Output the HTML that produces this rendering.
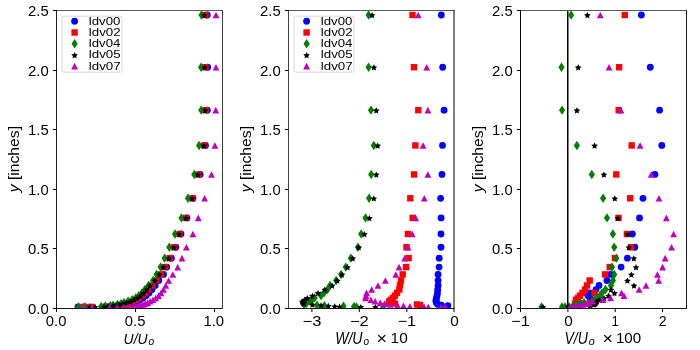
<!DOCTYPE html><html><head><meta charset="utf-8"><style>html,body{margin:0;padding:0;background:#fff;}svg{display:block;will-change:transform;}</style></head><body><svg width="700" height="350" viewBox="0 0 700 350">
<rect width="700" height="350" fill="#ffffff"/>
<defs>
<clipPath id="c0"><rect x="56.5" y="10.5" width="166.0" height="298.0"/></clipPath>
<clipPath id="c1"><rect x="288.5" y="10.5" width="165.5" height="298.0"/></clipPath>
<clipPath id="c2"><rect x="520.5" y="10.5" width="166.0" height="298.0"/></clipPath>
</defs>
<g clip-path="url(#c0)">
<circle cx="207.30" cy="15.00" r="3.4" fill="#0000ff"/>
<circle cx="207.70" cy="67.23" r="3.4" fill="#0000ff"/>
<circle cx="207.30" cy="110.15" r="3.4" fill="#0000ff"/>
<circle cx="205.50" cy="145.44" r="3.4" fill="#0000ff"/>
<circle cx="200.20" cy="174.45" r="3.4" fill="#0000ff"/>
<circle cx="193.00" cy="198.29" r="3.4" fill="#0000ff"/>
<circle cx="187.00" cy="217.89" r="3.4" fill="#0000ff"/>
<circle cx="181.00" cy="234.00" r="3.4" fill="#0000ff"/>
<circle cx="175.90" cy="247.24" r="3.4" fill="#0000ff"/>
<circle cx="171.40" cy="258.13" r="3.4" fill="#0000ff"/>
<circle cx="166.80" cy="267.08" r="3.4" fill="#0000ff"/>
<circle cx="163.50" cy="274.43" r="3.4" fill="#0000ff"/>
<circle cx="158.90" cy="280.48" r="3.4" fill="#0000ff"/>
<circle cx="155.30" cy="285.45" r="3.4" fill="#0000ff"/>
<circle cx="152.00" cy="289.53" r="3.4" fill="#0000ff"/>
<circle cx="149.00" cy="292.89" r="3.4" fill="#0000ff"/>
<circle cx="146.00" cy="295.65" r="3.4" fill="#0000ff"/>
<circle cx="143.00" cy="297.92" r="3.4" fill="#0000ff"/>
<circle cx="140.00" cy="299.79" r="3.4" fill="#0000ff"/>
<circle cx="137.00" cy="301.32" r="3.4" fill="#0000ff"/>
<circle cx="134.00" cy="302.58" r="3.4" fill="#0000ff"/>
<circle cx="131.00" cy="303.62" r="3.4" fill="#0000ff"/>
<circle cx="128.00" cy="304.47" r="3.4" fill="#0000ff"/>
<circle cx="125.00" cy="305.17" r="3.4" fill="#0000ff"/>
<circle cx="121.00" cy="305.74" r="3.4" fill="#0000ff"/>
<circle cx="116.00" cy="306.22" r="3.4" fill="#0000ff"/>
<circle cx="110.00" cy="306.60" r="3.4" fill="#0000ff"/>
<circle cx="104.00" cy="306.92" r="3.4" fill="#0000ff"/>
<circle cx="84.00" cy="307.00" r="3.4" fill="#0000ff"/>
<circle cx="78.00" cy="307.00" r="3.4" fill="#0000ff"/>
<rect x="202.30" y="11.80" width="6.40" height="6.40" fill="#ff0000"/>
<rect x="202.10" y="64.03" width="6.40" height="6.40" fill="#ff0000"/>
<rect x="202.30" y="106.95" width="6.40" height="6.40" fill="#ff0000"/>
<rect x="201.00" y="142.24" width="6.40" height="6.40" fill="#ff0000"/>
<rect x="195.30" y="171.25" width="6.40" height="6.40" fill="#ff0000"/>
<rect x="189.30" y="195.09" width="6.40" height="6.40" fill="#ff0000"/>
<rect x="182.80" y="214.69" width="6.40" height="6.40" fill="#ff0000"/>
<rect x="176.50" y="230.80" width="6.40" height="6.40" fill="#ff0000"/>
<rect x="171.10" y="244.04" width="6.40" height="6.40" fill="#ff0000"/>
<rect x="166.40" y="254.93" width="6.40" height="6.40" fill="#ff0000"/>
<rect x="161.60" y="263.88" width="6.40" height="6.40" fill="#ff0000"/>
<rect x="157.60" y="271.23" width="6.40" height="6.40" fill="#ff0000"/>
<rect x="153.30" y="277.28" width="6.40" height="6.40" fill="#ff0000"/>
<rect x="148.80" y="282.25" width="6.40" height="6.40" fill="#ff0000"/>
<rect x="144.80" y="286.33" width="6.40" height="6.40" fill="#ff0000"/>
<rect x="141.80" y="289.69" width="6.40" height="6.40" fill="#ff0000"/>
<rect x="138.80" y="292.45" width="6.40" height="6.40" fill="#ff0000"/>
<rect x="135.80" y="294.72" width="6.40" height="6.40" fill="#ff0000"/>
<rect x="132.80" y="296.59" width="6.40" height="6.40" fill="#ff0000"/>
<rect x="129.80" y="298.12" width="6.40" height="6.40" fill="#ff0000"/>
<rect x="126.80" y="299.38" width="6.40" height="6.40" fill="#ff0000"/>
<rect x="123.80" y="300.42" width="6.40" height="6.40" fill="#ff0000"/>
<rect x="120.80" y="301.27" width="6.40" height="6.40" fill="#ff0000"/>
<rect x="117.80" y="301.97" width="6.40" height="6.40" fill="#ff0000"/>
<rect x="114.80" y="302.54" width="6.40" height="6.40" fill="#ff0000"/>
<rect x="109.80" y="303.02" width="6.40" height="6.40" fill="#ff0000"/>
<rect x="103.80" y="303.40" width="6.40" height="6.40" fill="#ff0000"/>
<rect x="88.80" y="303.72" width="6.40" height="6.40" fill="#ff0000"/>
<rect x="84.80" y="303.80" width="6.40" height="6.40" fill="#ff0000"/>
<rect x="78.80" y="303.80" width="6.40" height="6.40" fill="#ff0000"/>
<path d="M201.50 10.30L204.60 15.00L201.50 19.70L198.40 15.00Z" fill="#008000"/>
<path d="M201.10 62.53L204.20 67.23L201.10 71.93L198.00 67.23Z" fill="#008000"/>
<path d="M201.20 105.45L204.30 110.15L201.20 114.85L198.10 110.15Z" fill="#008000"/>
<path d="M199.10 140.74L202.20 145.44L199.10 150.14L196.00 145.44Z" fill="#008000"/>
<path d="M194.30 169.75L197.40 174.45L194.30 179.15L191.20 174.45Z" fill="#008000"/>
<path d="M188.00 193.59L191.10 198.29L188.00 202.99L184.90 198.29Z" fill="#008000"/>
<path d="M181.40 213.19L184.50 217.89L181.40 222.59L178.30 217.89Z" fill="#008000"/>
<path d="M175.00 229.30L178.10 234.00L175.00 238.70L171.90 234.00Z" fill="#008000"/>
<path d="M169.30 242.54L172.40 247.24L169.30 251.94L166.20 247.24Z" fill="#008000"/>
<path d="M164.60 253.43L167.70 258.13L164.60 262.83L161.50 258.13Z" fill="#008000"/>
<path d="M160.60 262.38L163.70 267.08L160.60 271.78L157.50 267.08Z" fill="#008000"/>
<path d="M156.60 269.73L159.70 274.43L156.60 279.13L153.50 274.43Z" fill="#008000"/>
<path d="M153.10 275.78L156.20 280.48L153.10 285.18L150.00 280.48Z" fill="#008000"/>
<path d="M148.60 280.75L151.70 285.45L148.60 290.15L145.50 285.45Z" fill="#008000"/>
<path d="M145.00 284.83L148.10 289.53L145.00 294.23L141.90 289.53Z" fill="#008000"/>
<path d="M142.00 288.19L145.10 292.89L142.00 297.59L138.90 292.89Z" fill="#008000"/>
<path d="M138.80 290.95L141.90 295.65L138.80 300.35L135.70 295.65Z" fill="#008000"/>
<path d="M135.70 293.22L138.80 297.92L135.70 302.62L132.60 297.92Z" fill="#008000"/>
<path d="M132.20 295.09L135.30 299.79L132.20 304.49L129.10 299.79Z" fill="#008000"/>
<path d="M128.10 296.62L131.20 301.32L128.10 306.02L125.00 301.32Z" fill="#008000"/>
<path d="M124.00 297.88L127.10 302.58L124.00 307.28L120.90 302.58Z" fill="#008000"/>
<path d="M121.00 298.92L124.10 303.62L121.00 308.32L117.90 303.62Z" fill="#008000"/>
<path d="M117.50 299.77L120.60 304.47L117.50 309.17L114.40 304.47Z" fill="#008000"/>
<path d="M113.00 300.47L116.10 305.17L113.00 309.87L109.90 305.17Z" fill="#008000"/>
<path d="M110.30 301.04L113.40 305.74L110.30 310.44L107.20 305.74Z" fill="#008000"/>
<path d="M105.30 301.52L108.40 306.22L105.30 310.92L102.20 306.22Z" fill="#008000"/>
<path d="M101.10 301.90L104.20 306.60L101.10 311.30L98.00 306.60Z" fill="#008000"/>
<path d="M85.00 302.22L88.10 306.92L85.00 311.62L81.90 306.92Z" fill="#008000"/>
<path d="M78.60 302.30L81.70 307.00L78.60 311.70L75.50 307.00Z" fill="#008000"/>
<path d="M204.40 12.00L205.43 14.08L207.73 14.42L206.06 16.04L206.46 18.33L204.40 17.25L202.34 18.33L202.74 16.04L201.07 14.42L203.37 14.08Z" fill="#000000"/>
<path d="M204.60 64.23L205.63 66.31L207.93 66.64L206.26 68.27L206.66 70.56L204.60 69.48L202.54 70.56L202.94 68.27L201.27 66.64L203.57 66.31Z" fill="#000000"/>
<path d="M205.10 107.15L206.13 109.24L208.43 109.57L206.76 111.20L207.16 113.49L205.10 112.40L203.04 113.49L203.44 111.20L201.77 109.57L204.07 109.24Z" fill="#000000"/>
<path d="M203.90 142.44L204.93 144.53L207.23 144.86L205.56 146.48L205.96 148.77L203.90 147.69L201.84 148.77L202.24 146.48L200.57 144.86L202.87 144.53Z" fill="#000000"/>
<path d="M198.00 171.45L199.03 173.53L201.33 173.87L199.66 175.49L200.06 177.78L198.00 176.70L195.94 177.78L196.34 175.49L194.67 173.87L196.97 173.53Z" fill="#000000"/>
<path d="M192.20 195.29L193.23 197.38L195.53 197.71L193.86 199.33L194.26 201.62L192.20 200.54L190.14 201.62L190.54 199.33L188.87 197.71L191.17 197.38Z" fill="#000000"/>
<path d="M186.00 214.89L187.03 216.98L189.33 217.31L187.66 218.93L188.06 221.22L186.00 220.14L183.94 221.22L184.34 218.93L182.67 217.31L184.97 216.98Z" fill="#000000"/>
<path d="M179.30 231.00L180.33 233.09L182.63 233.42L180.96 235.04L181.36 237.33L179.30 236.25L177.24 237.33L177.64 235.04L175.97 233.42L178.27 233.09Z" fill="#000000"/>
<path d="M173.90 244.24L174.93 246.33L177.23 246.66L175.56 248.29L175.96 250.58L173.90 249.49L171.84 250.58L172.24 248.29L170.57 246.66L172.87 246.33Z" fill="#000000"/>
<path d="M168.90 255.13L169.93 257.21L172.23 257.55L170.56 259.17L170.96 261.46L168.90 260.38L166.84 261.46L167.24 259.17L165.57 257.55L167.87 257.21Z" fill="#000000"/>
<path d="M163.50 264.08L164.53 266.16L166.83 266.50L165.16 268.12L165.56 270.41L163.50 269.33L161.44 270.41L161.84 268.12L160.17 266.50L162.47 266.16Z" fill="#000000"/>
<path d="M159.40 271.43L160.43 273.52L162.73 273.85L161.06 275.47L161.46 277.77L159.40 276.68L157.34 277.77L157.74 275.47L156.07 273.85L158.37 273.52Z" fill="#000000"/>
<path d="M154.90 277.48L155.93 279.56L158.23 279.90L156.56 281.52L156.96 283.81L154.90 282.73L152.84 283.81L153.24 281.52L151.57 279.90L153.87 279.56Z" fill="#000000"/>
<path d="M150.00 282.45L151.03 284.53L153.33 284.87L151.66 286.49L152.06 288.78L150.00 287.70L147.94 288.78L148.34 286.49L146.67 284.87L148.97 284.53Z" fill="#000000"/>
<path d="M146.50 286.53L147.53 288.62L149.83 288.95L148.16 290.58L148.56 292.87L146.50 291.78L144.44 292.87L144.84 290.58L143.17 288.95L145.47 288.62Z" fill="#000000"/>
<path d="M143.50 289.89L144.53 291.98L146.83 292.31L145.16 293.93L145.56 296.22L143.50 295.14L141.44 296.22L141.84 293.93L140.17 292.31L142.47 291.98Z" fill="#000000"/>
<path d="M140.50 292.65L141.53 294.74L143.83 295.07L142.16 296.69L142.56 298.98L140.50 297.90L138.44 298.98L138.84 296.69L137.17 295.07L139.47 294.74Z" fill="#000000"/>
<path d="M137.00 294.92L138.03 297.01L140.33 297.34L138.66 298.96L139.06 301.25L137.00 300.17L134.94 301.25L135.34 298.96L133.67 297.34L135.97 297.01Z" fill="#000000"/>
<path d="M134.00 296.79L135.03 298.87L137.33 299.21L135.66 300.83L136.06 303.12L134.00 302.04L131.94 303.12L132.34 300.83L130.67 299.21L132.97 298.87Z" fill="#000000"/>
<path d="M130.00 298.32L131.03 300.40L133.33 300.74L131.66 302.36L132.06 304.65L130.00 303.57L127.94 304.65L128.34 302.36L126.67 300.74L128.97 300.40Z" fill="#000000"/>
<path d="M126.00 299.58L127.03 301.66L129.33 302.00L127.66 303.62L128.06 305.91L126.00 304.83L123.94 305.91L124.34 303.62L122.67 302.00L124.97 301.66Z" fill="#000000"/>
<path d="M122.50 300.62L123.53 302.70L125.83 303.03L124.16 304.66L124.56 306.95L122.50 305.87L120.44 306.95L120.84 304.66L119.17 303.03L121.47 302.70Z" fill="#000000"/>
<path d="M119.00 301.47L120.03 303.55L122.33 303.89L120.66 305.51L121.06 307.80L119.00 306.72L116.94 307.80L117.34 305.51L115.67 303.89L117.97 303.55Z" fill="#000000"/>
<path d="M116.00 302.17L117.03 304.25L119.33 304.59L117.66 306.21L118.06 308.50L116.00 307.42L113.94 308.50L114.34 306.21L112.67 304.59L114.97 304.25Z" fill="#000000"/>
<path d="M113.00 302.74L114.03 304.83L116.33 305.16L114.66 306.78L115.06 309.07L113.00 307.99L110.94 309.07L111.34 306.78L109.67 305.16L111.97 304.83Z" fill="#000000"/>
<path d="M108.00 303.22L109.03 305.30L111.33 305.63L109.66 307.26L110.06 309.55L108.00 308.47L105.94 309.55L106.34 307.26L104.67 305.63L106.97 305.30Z" fill="#000000"/>
<path d="M104.00 303.60L105.03 305.69L107.33 306.02L105.66 307.65L106.06 309.94L104.00 308.85L101.94 309.94L102.34 307.65L100.67 306.02L102.97 305.69Z" fill="#000000"/>
<path d="M95.10 303.92L96.13 306.01L98.43 306.34L96.76 307.97L97.16 310.26L95.10 309.17L93.04 310.26L93.44 307.97L91.77 306.34L94.07 306.01Z" fill="#000000"/>
<path d="M90.00 304.00L91.03 306.08L93.33 306.42L91.66 308.04L92.06 310.33L90.00 309.25L87.94 310.33L88.34 308.04L86.67 306.42L88.97 306.08Z" fill="#000000"/>
<path d="M216.00 11.70L219.40 18.30L212.60 18.30Z" fill="#bf00bf"/>
<path d="M216.00 63.93L219.40 70.53L212.60 70.53Z" fill="#bf00bf"/>
<path d="M215.75 106.85L219.15 113.45L212.35 113.45Z" fill="#bf00bf"/>
<path d="M214.90 142.14L218.30 148.74L211.50 148.74Z" fill="#bf00bf"/>
<path d="M211.50 171.15L214.90 177.75L208.10 177.75Z" fill="#bf00bf"/>
<path d="M204.60 194.99L208.00 201.59L201.20 201.59Z" fill="#bf00bf"/>
<path d="M198.30 214.59L201.70 221.19L194.90 221.19Z" fill="#bf00bf"/>
<path d="M192.90 230.70L196.30 237.30L189.50 237.30Z" fill="#bf00bf"/>
<path d="M186.40 243.94L189.80 250.54L183.00 250.54Z" fill="#bf00bf"/>
<path d="M182.00 254.83L185.40 261.43L178.60 261.43Z" fill="#bf00bf"/>
<path d="M177.70 263.78L181.10 270.38L174.30 270.38Z" fill="#bf00bf"/>
<path d="M172.80 271.13L176.20 277.73L169.40 277.73Z" fill="#bf00bf"/>
<path d="M168.60 277.18L172.00 283.78L165.20 283.78Z" fill="#bf00bf"/>
<path d="M165.80 282.15L169.20 288.75L162.40 288.75Z" fill="#bf00bf"/>
<path d="M163.50 286.23L166.90 292.83L160.10 292.83Z" fill="#bf00bf"/>
<path d="M161.00 289.59L164.40 296.19L157.60 296.19Z" fill="#bf00bf"/>
<path d="M158.50 292.35L161.90 298.95L155.10 298.95Z" fill="#bf00bf"/>
<path d="M155.80 294.62L159.20 301.22L152.40 301.22Z" fill="#bf00bf"/>
<path d="M153.00 296.49L156.40 303.09L149.60 303.09Z" fill="#bf00bf"/>
<path d="M150.20 298.02L153.60 304.62L146.80 304.62Z" fill="#bf00bf"/>
<path d="M147.60 299.28L151.00 305.88L144.20 305.88Z" fill="#bf00bf"/>
<path d="M145.20 300.32L148.60 306.92L141.80 306.92Z" fill="#bf00bf"/>
<path d="M143.00 301.17L146.40 307.77L139.60 307.77Z" fill="#bf00bf"/>
<path d="M140.80 301.87L144.20 308.47L137.40 308.47Z" fill="#bf00bf"/>
<path d="M138.50 302.44L141.90 309.04L135.10 309.04Z" fill="#bf00bf"/>
<path d="M136.00 302.92L139.40 309.52L132.60 309.52Z" fill="#bf00bf"/>
<path d="M132.50 303.30L135.90 309.90L129.10 309.90Z" fill="#bf00bf"/>
<path d="M128.00 303.62L131.40 310.22L124.60 310.22Z" fill="#bf00bf"/>
<path d="M123.30 303.70L126.70 310.30L119.90 310.30Z" fill="#bf00bf"/>
<path d="M117.10 303.70L120.50 310.30L113.70 310.30Z" fill="#bf00bf"/>
<path d="M109.60 303.70L113.00 310.30L106.20 310.30Z" fill="#bf00bf"/>
<path d="M92.00 303.70L95.40 310.30L88.60 310.30Z" fill="#bf00bf"/>
<path d="M82.90 303.70L86.30 310.30L79.50 310.30Z" fill="#bf00bf"/>
</g>
<line x1="56.0" y1="10.5" x2="223.0" y2="10.5" stroke="#5a5a5a" stroke-width="1"/>
<line x1="56.0" y1="308.5" x2="223.0" y2="308.5" stroke="#181818" stroke-width="1"/>
<line x1="56.5" y1="10.0" x2="56.5" y2="309.0" stroke="#1c1c1c" stroke-width="1"/>
<line x1="222.5" y1="10.0" x2="222.5" y2="309.0" stroke="#404040" stroke-width="1"/>
<line x1="52.9" y1="308.50" x2="56.5" y2="308.50" stroke="#000" stroke-width="1"/>
<text transform="matrix(1.0595 0 0 1.0256 28.070 313.800)" font-size="14" font-family="'Liberation Sans', sans-serif" >0.0</text>
<line x1="52.9" y1="248.50" x2="56.5" y2="248.50" stroke="#000" stroke-width="1"/>
<text transform="matrix(1.0595 0 0 1.0256 28.070 253.800)" font-size="14" font-family="'Liberation Sans', sans-serif" >0.5</text>
<line x1="52.9" y1="189.50" x2="56.5" y2="189.50" stroke="#000" stroke-width="1"/>
<text transform="matrix(1.0611 0 0 1.0256 28.039 194.800)" font-size="14" font-family="'Liberation Sans', sans-serif" >1.0</text>
<line x1="52.9" y1="129.50" x2="56.5" y2="129.50" stroke="#000" stroke-width="1"/>
<text transform="matrix(1.0611 0 0 1.0526 28.039 134.800)" font-size="14" font-family="'Liberation Sans', sans-serif" >1.5</text>
<line x1="52.9" y1="70.50" x2="56.5" y2="70.50" stroke="#000" stroke-width="1"/>
<text transform="matrix(1.0630 0 0 1.0256 28.003 75.800)" font-size="14" font-family="'Liberation Sans', sans-serif" >2.0</text>
<line x1="52.9" y1="10.50" x2="56.5" y2="10.50" stroke="#000" stroke-width="1"/>
<text transform="matrix(1.0630 0 0 1.0256 28.003 15.800)" font-size="14" font-family="'Liberation Sans', sans-serif" >2.5</text>
<line x1="56.50" y1="308.5" x2="56.50" y2="312.1" stroke="#000" stroke-width="1"/>
<text transform="matrix(1.0595 0 0 1.0154 45.770 325.600)" font-size="14" font-family="'Liberation Sans', sans-serif" >0.0</text>
<line x1="135.50" y1="308.5" x2="135.50" y2="312.1" stroke="#000" stroke-width="1"/>
<text transform="matrix(1.0595 0 0 1.0154 124.770 325.600)" font-size="14" font-family="'Liberation Sans', sans-serif" >0.5</text>
<line x1="214.50" y1="308.5" x2="214.50" y2="312.1" stroke="#000" stroke-width="1"/>
<text transform="matrix(1.0611 0 0 1.0154 203.489 325.600)" font-size="14" font-family="'Liberation Sans', sans-serif" >1.0</text>
<g transform="matrix(1.0415 0 0 1.1217 18.875 192.259)"><text transform="rotate(-90)" font-size="14" font-family="'Liberation Sans', sans-serif"><tspan font-style="italic">y</tspan> [inches]</text></g>
<g clip-path="url(#c1)">
<circle cx="441.30" cy="15.00" r="3.4" fill="#0000ff"/>
<circle cx="442.70" cy="67.23" r="3.4" fill="#0000ff"/>
<circle cx="444.10" cy="110.15" r="3.4" fill="#0000ff"/>
<circle cx="442.50" cy="145.44" r="3.4" fill="#0000ff"/>
<circle cx="442.00" cy="174.45" r="3.4" fill="#0000ff"/>
<circle cx="440.60" cy="198.29" r="3.4" fill="#0000ff"/>
<circle cx="441.10" cy="217.89" r="3.4" fill="#0000ff"/>
<circle cx="441.00" cy="234.00" r="3.4" fill="#0000ff"/>
<circle cx="441.00" cy="247.24" r="3.4" fill="#0000ff"/>
<circle cx="439.20" cy="258.13" r="3.4" fill="#0000ff"/>
<circle cx="439.10" cy="267.08" r="3.4" fill="#0000ff"/>
<circle cx="438.10" cy="274.43" r="3.4" fill="#0000ff"/>
<circle cx="438.10" cy="280.48" r="3.4" fill="#0000ff"/>
<circle cx="438.10" cy="285.45" r="3.4" fill="#0000ff"/>
<circle cx="437.70" cy="289.53" r="3.4" fill="#0000ff"/>
<circle cx="437.50" cy="292.89" r="3.4" fill="#0000ff"/>
<circle cx="437.00" cy="295.65" r="3.4" fill="#0000ff"/>
<circle cx="436.50" cy="297.92" r="3.4" fill="#0000ff"/>
<circle cx="436.00" cy="299.79" r="3.4" fill="#0000ff"/>
<circle cx="436.00" cy="301.32" r="3.4" fill="#0000ff"/>
<circle cx="436.50" cy="302.58" r="3.4" fill="#0000ff"/>
<circle cx="437.00" cy="303.62" r="3.4" fill="#0000ff"/>
<circle cx="438.00" cy="304.47" r="3.4" fill="#0000ff"/>
<circle cx="441.40" cy="305.17" r="3.4" fill="#0000ff"/>
<circle cx="447.90" cy="305.74" r="3.4" fill="#0000ff"/>
<rect x="409.30" y="11.80" width="6.40" height="6.40" fill="#ff0000"/>
<rect x="410.80" y="64.03" width="6.40" height="6.40" fill="#ff0000"/>
<rect x="415.10" y="106.95" width="6.40" height="6.40" fill="#ff0000"/>
<rect x="412.20" y="142.24" width="6.40" height="6.40" fill="#ff0000"/>
<rect x="410.90" y="171.25" width="6.40" height="6.40" fill="#ff0000"/>
<rect x="407.10" y="195.09" width="6.40" height="6.40" fill="#ff0000"/>
<rect x="409.50" y="214.69" width="6.40" height="6.40" fill="#ff0000"/>
<rect x="404.80" y="230.80" width="6.40" height="6.40" fill="#ff0000"/>
<rect x="403.30" y="244.04" width="6.40" height="6.40" fill="#ff0000"/>
<rect x="405.40" y="254.93" width="6.40" height="6.40" fill="#ff0000"/>
<rect x="402.90" y="263.88" width="6.40" height="6.40" fill="#ff0000"/>
<rect x="399.50" y="271.23" width="6.40" height="6.40" fill="#ff0000"/>
<rect x="397.70" y="277.28" width="6.40" height="6.40" fill="#ff0000"/>
<rect x="396.80" y="282.25" width="6.40" height="6.40" fill="#ff0000"/>
<rect x="396.10" y="286.33" width="6.40" height="6.40" fill="#ff0000"/>
<rect x="393.80" y="289.69" width="6.40" height="6.40" fill="#ff0000"/>
<rect x="391.80" y="292.45" width="6.40" height="6.40" fill="#ff0000"/>
<rect x="389.80" y="294.72" width="6.40" height="6.40" fill="#ff0000"/>
<rect x="387.80" y="296.59" width="6.40" height="6.40" fill="#ff0000"/>
<rect x="386.30" y="298.12" width="6.40" height="6.40" fill="#ff0000"/>
<rect x="385.80" y="299.38" width="6.40" height="6.40" fill="#ff0000"/>
<rect x="391.80" y="300.42" width="6.40" height="6.40" fill="#ff0000"/>
<rect x="413.80" y="301.27" width="6.40" height="6.40" fill="#ff0000"/>
<rect x="416.80" y="301.97" width="6.40" height="6.40" fill="#ff0000"/>
<path d="M368.60 10.30L371.70 15.00L368.60 19.70L365.50 15.00Z" fill="#008000"/>
<path d="M368.60 62.53L371.70 67.23L368.60 71.93L365.50 67.23Z" fill="#008000"/>
<path d="M371.00 105.45L374.10 110.15L371.00 114.85L367.90 110.15Z" fill="#008000"/>
<path d="M373.80 140.74L376.90 145.44L373.80 150.14L370.70 145.44Z" fill="#008000"/>
<path d="M371.20 169.75L374.30 174.45L371.20 179.15L368.10 174.45Z" fill="#008000"/>
<path d="M369.10 193.59L372.20 198.29L369.10 202.99L366.00 198.29Z" fill="#008000"/>
<path d="M365.50 213.19L368.60 217.89L365.50 222.59L362.40 217.89Z" fill="#008000"/>
<path d="M361.20 229.30L364.30 234.00L361.20 238.70L358.10 234.00Z" fill="#008000"/>
<path d="M357.90 242.54L361.00 247.24L357.90 251.94L354.80 247.24Z" fill="#008000"/>
<path d="M350.80 253.43L353.90 258.13L350.80 262.83L347.70 258.13Z" fill="#008000"/>
<path d="M345.80 262.38L348.90 267.08L345.80 271.78L342.70 267.08Z" fill="#008000"/>
<path d="M341.10 269.73L344.20 274.43L341.10 279.13L338.00 274.43Z" fill="#008000"/>
<path d="M336.20 275.78L339.30 280.48L336.20 285.18L333.10 280.48Z" fill="#008000"/>
<path d="M330.00 280.75L333.10 285.45L330.00 290.15L326.90 285.45Z" fill="#008000"/>
<path d="M327.50 284.83L330.60 289.53L327.50 294.23L324.40 289.53Z" fill="#008000"/>
<path d="M324.00 288.19L327.10 292.89L324.00 297.59L320.90 292.89Z" fill="#008000"/>
<path d="M321.00 290.95L324.10 295.65L321.00 300.35L317.90 295.65Z" fill="#008000"/>
<path d="M314.60 293.22L317.70 297.92L314.60 302.62L311.50 297.92Z" fill="#008000"/>
<path d="M312.00 295.09L315.10 299.79L312.00 304.49L308.90 299.79Z" fill="#008000"/>
<path d="M310.00 296.62L313.10 301.32L310.00 306.02L306.90 301.32Z" fill="#008000"/>
<path d="M307.00 297.88L310.10 302.58L307.00 307.28L303.90 302.58Z" fill="#008000"/>
<path d="M306.00 298.92L309.10 303.62L306.00 308.32L302.90 303.62Z" fill="#008000"/>
<path d="M304.00 299.77L307.10 304.47L304.00 309.17L300.90 304.47Z" fill="#008000"/>
<path d="M317.00 300.47L320.10 305.17L317.00 309.87L313.90 305.17Z" fill="#008000"/>
<path d="M324.40 301.04L327.50 305.74L324.40 310.44L321.30 305.74Z" fill="#008000"/>
<path d="M343.50 301.52L346.60 306.22L343.50 310.92L340.40 306.22Z" fill="#008000"/>
<path d="M354.00 301.90L357.10 306.60L354.00 311.30L350.90 306.60Z" fill="#008000"/>
<path d="M356.50 302.22L359.60 306.92L356.50 311.62L353.40 306.92Z" fill="#008000"/>
<path d="M383.00 302.30L386.10 307.00L383.00 311.70L379.90 307.00Z" fill="#008000"/>
<path d="M372.10 12.00L373.13 14.08L375.43 14.42L373.76 16.04L374.16 18.33L372.10 17.25L370.04 18.33L370.44 16.04L368.77 14.42L371.07 14.08Z" fill="#000000"/>
<path d="M373.90 64.23L374.93 66.31L377.23 66.64L375.56 68.27L375.96 70.56L373.90 69.48L371.84 70.56L372.24 68.27L370.57 66.64L372.87 66.31Z" fill="#000000"/>
<path d="M376.30 107.15L377.33 109.24L379.63 109.57L377.96 111.20L378.36 113.49L376.30 112.40L374.24 113.49L374.64 111.20L372.97 109.57L375.27 109.24Z" fill="#000000"/>
<path d="M377.70 142.44L378.73 144.53L381.03 144.86L379.36 146.48L379.76 148.77L377.70 147.69L375.64 148.77L376.04 146.48L374.37 144.86L376.67 144.53Z" fill="#000000"/>
<path d="M376.30 171.45L377.33 173.53L379.63 173.87L377.96 175.49L378.36 177.78L376.30 176.70L374.24 177.78L374.64 175.49L372.97 173.87L375.27 173.53Z" fill="#000000"/>
<path d="M373.80 195.29L374.83 197.38L377.13 197.71L375.46 199.33L375.86 201.62L373.80 200.54L371.74 201.62L372.14 199.33L370.47 197.71L372.77 197.38Z" fill="#000000"/>
<path d="M369.40 214.89L370.43 216.98L372.73 217.31L371.06 218.93L371.46 221.22L369.40 220.14L367.34 221.22L367.74 218.93L366.07 217.31L368.37 216.98Z" fill="#000000"/>
<path d="M364.40 231.00L365.43 233.09L367.73 233.42L366.06 235.04L366.46 237.33L364.40 236.25L362.34 237.33L362.74 235.04L361.07 233.42L363.37 233.09Z" fill="#000000"/>
<path d="M358.80 244.24L359.83 246.33L362.13 246.66L360.46 248.29L360.86 250.58L358.80 249.49L356.74 250.58L357.14 248.29L355.47 246.66L357.77 246.33Z" fill="#000000"/>
<path d="M352.70 255.13L353.73 257.21L356.03 257.55L354.36 259.17L354.76 261.46L352.70 260.38L350.64 261.46L351.04 259.17L349.37 257.55L351.67 257.21Z" fill="#000000"/>
<path d="M347.60 264.08L348.63 266.16L350.93 266.50L349.26 268.12L349.66 270.41L347.60 269.33L345.54 270.41L345.94 268.12L344.27 266.50L346.57 266.16Z" fill="#000000"/>
<path d="M342.00 271.43L343.03 273.52L345.33 273.85L343.66 275.47L344.06 277.77L342.00 276.68L339.94 277.77L340.34 275.47L338.67 273.85L340.97 273.52Z" fill="#000000"/>
<path d="M337.30 277.48L338.33 279.56L340.63 279.90L338.96 281.52L339.36 283.81L337.30 282.73L335.24 283.81L335.64 281.52L333.97 279.90L336.27 279.56Z" fill="#000000"/>
<path d="M332.10 282.45L333.13 284.53L335.43 284.87L333.76 286.49L334.16 288.78L332.10 287.70L330.04 288.78L330.44 286.49L328.77 284.87L331.07 284.53Z" fill="#000000"/>
<path d="M324.80 286.53L325.83 288.62L328.13 288.95L326.46 290.58L326.86 292.87L324.80 291.78L322.74 292.87L323.14 290.58L321.47 288.95L323.77 288.62Z" fill="#000000"/>
<path d="M318.00 289.89L319.03 291.98L321.33 292.31L319.66 293.93L320.06 296.22L318.00 295.14L315.94 296.22L316.34 293.93L314.67 292.31L316.97 291.98Z" fill="#000000"/>
<path d="M312.40 292.65L313.43 294.74L315.73 295.07L314.06 296.69L314.46 298.98L312.40 297.90L310.34 298.98L310.74 296.69L309.07 295.07L311.37 294.74Z" fill="#000000"/>
<path d="M307.30 294.92L308.33 297.01L310.63 297.34L308.96 298.96L309.36 301.25L307.30 300.17L305.24 301.25L305.64 298.96L303.97 297.34L306.27 297.01Z" fill="#000000"/>
<path d="M304.50 296.79L305.53 298.87L307.83 299.21L306.16 300.83L306.56 303.12L304.50 302.04L302.44 303.12L302.84 300.83L301.17 299.21L303.47 298.87Z" fill="#000000"/>
<path d="M302.10 298.32L303.13 300.40L305.43 300.74L303.76 302.36L304.16 304.65L302.10 303.57L300.04 304.65L300.44 302.36L298.77 300.74L301.07 300.40Z" fill="#000000"/>
<path d="M303.00 299.58L304.03 301.66L306.33 302.00L304.66 303.62L305.06 305.91L303.00 304.83L300.94 305.91L301.34 303.62L299.67 302.00L301.97 301.66Z" fill="#000000"/>
<path d="M303.90 300.62L304.93 302.70L307.23 303.03L305.56 304.66L305.96 306.95L303.90 305.87L301.84 306.95L302.24 304.66L300.57 303.03L302.87 302.70Z" fill="#000000"/>
<path d="M312.40 301.47L313.43 303.55L315.73 303.89L314.06 305.51L314.46 307.80L312.40 306.72L310.34 307.80L310.74 305.51L309.07 303.89L311.37 303.55Z" fill="#000000"/>
<path d="M321.00 302.17L322.03 304.25L324.33 304.59L322.66 306.21L323.06 308.50L321.00 307.42L318.94 308.50L319.34 306.21L317.67 304.59L319.97 304.25Z" fill="#000000"/>
<path d="M328.30 302.74L329.33 304.83L331.63 305.16L329.96 306.78L330.36 309.07L328.30 307.99L326.24 309.07L326.64 306.78L324.97 305.16L327.27 304.83Z" fill="#000000"/>
<path d="M334.70 303.22L335.73 305.30L338.03 305.63L336.36 307.26L336.76 309.55L334.70 308.47L332.64 309.55L333.04 307.26L331.37 305.63L333.67 305.30Z" fill="#000000"/>
<path d="M339.60 303.60L340.63 305.69L342.93 306.02L341.26 307.65L341.66 309.94L339.60 308.85L337.54 309.94L337.94 307.65L336.27 306.02L338.57 305.69Z" fill="#000000"/>
<path d="M360.80 303.92L361.83 306.01L364.13 306.34L362.46 307.97L362.86 310.26L360.80 309.17L358.74 310.26L359.14 307.97L357.47 306.34L359.77 306.01Z" fill="#000000"/>
<path d="M375.40 304.00L376.43 306.08L378.73 306.42L377.06 308.04L377.46 310.33L375.40 309.25L373.34 310.33L373.74 308.04L372.07 306.42L374.37 306.08Z" fill="#000000"/>
<path d="M418.20 11.70L421.60 18.30L414.80 18.30Z" fill="#bf00bf"/>
<path d="M426.70 63.93L430.10 70.53L423.30 70.53Z" fill="#bf00bf"/>
<path d="M427.90 106.85L431.30 113.45L424.50 113.45Z" fill="#bf00bf"/>
<path d="M423.10 142.14L426.50 148.74L419.70 148.74Z" fill="#bf00bf"/>
<path d="M427.90 171.15L431.30 177.75L424.50 177.75Z" fill="#bf00bf"/>
<path d="M424.30 194.99L427.70 201.59L420.90 201.59Z" fill="#bf00bf"/>
<path d="M415.60 214.59L419.00 221.19L412.20 221.19Z" fill="#bf00bf"/>
<path d="M412.30 230.70L415.70 237.30L408.90 237.30Z" fill="#bf00bf"/>
<path d="M408.00 243.94L411.40 250.54L404.60 250.54Z" fill="#bf00bf"/>
<path d="M404.70 254.83L408.10 261.43L401.30 261.43Z" fill="#bf00bf"/>
<path d="M399.10 263.78L402.50 270.38L395.70 270.38Z" fill="#bf00bf"/>
<path d="M395.80 271.13L399.20 277.73L392.40 277.73Z" fill="#bf00bf"/>
<path d="M385.40 277.18L388.80 283.78L382.00 283.78Z" fill="#bf00bf"/>
<path d="M378.00 282.15L381.40 288.75L374.60 288.75Z" fill="#bf00bf"/>
<path d="M371.70 286.23L375.10 292.83L368.30 292.83Z" fill="#bf00bf"/>
<path d="M366.60 289.59L370.00 296.19L363.20 296.19Z" fill="#bf00bf"/>
<path d="M366.00 292.35L369.40 298.95L362.60 298.95Z" fill="#bf00bf"/>
<path d="M365.50 294.62L368.90 301.22L362.10 301.22Z" fill="#bf00bf"/>
<path d="M370.90 296.49L374.30 303.09L367.50 303.09Z" fill="#bf00bf"/>
<path d="M375.10 298.02L378.50 304.62L371.70 304.62Z" fill="#bf00bf"/>
<path d="M380.30 299.28L383.70 305.88L376.90 305.88Z" fill="#bf00bf"/>
<path d="M384.60 300.32L388.00 306.92L381.20 306.92Z" fill="#bf00bf"/>
<path d="M390.00 301.17L393.40 307.77L386.60 307.77Z" fill="#bf00bf"/>
<path d="M397.50 301.87L400.90 308.47L394.10 308.47Z" fill="#bf00bf"/>
<path d="M403.50 302.44L406.90 309.04L400.10 309.04Z" fill="#bf00bf"/>
<path d="M410.00 302.92L413.40 309.52L406.60 309.52Z" fill="#bf00bf"/>
<path d="M424.00 303.30L427.40 309.90L420.60 309.90Z" fill="#bf00bf"/>
<path d="M428.30 303.62L431.70 310.22L424.90 310.22Z" fill="#bf00bf"/>
<path d="M441.10 303.70L444.50 310.30L437.70 310.30Z" fill="#bf00bf"/>
<path d="M445.00 303.70L448.40 310.30L441.60 310.30Z" fill="#bf00bf"/>
</g>
<line x1="288.0" y1="10.5" x2="454.5" y2="10.5" stroke="#5a5a5a" stroke-width="1"/>
<line x1="288.0" y1="308.5" x2="454.5" y2="308.5" stroke="#181818" stroke-width="1"/>
<line x1="288.5" y1="10.0" x2="288.5" y2="309.0" stroke="#404040" stroke-width="1"/>
<line x1="454.0" y1="10.0" x2="454.0" y2="309.0" stroke="#000000" stroke-width="1"/>
<line x1="284.9" y1="308.50" x2="288.5" y2="308.50" stroke="#000" stroke-width="1"/>
<text transform="matrix(1.0595 0 0 1.0256 260.070 313.800)" font-size="14" font-family="'Liberation Sans', sans-serif" >0.0</text>
<line x1="284.9" y1="248.50" x2="288.5" y2="248.50" stroke="#000" stroke-width="1"/>
<text transform="matrix(1.0595 0 0 1.0256 260.070 253.800)" font-size="14" font-family="'Liberation Sans', sans-serif" >0.5</text>
<line x1="284.9" y1="189.50" x2="288.5" y2="189.50" stroke="#000" stroke-width="1"/>
<text transform="matrix(1.0611 0 0 1.0256 260.039 194.800)" font-size="14" font-family="'Liberation Sans', sans-serif" >1.0</text>
<line x1="284.9" y1="129.50" x2="288.5" y2="129.50" stroke="#000" stroke-width="1"/>
<text transform="matrix(1.0611 0 0 1.0526 260.039 134.800)" font-size="14" font-family="'Liberation Sans', sans-serif" >1.5</text>
<line x1="284.9" y1="70.50" x2="288.5" y2="70.50" stroke="#000" stroke-width="1"/>
<text transform="matrix(1.0630 0 0 1.0256 260.003 75.800)" font-size="14" font-family="'Liberation Sans', sans-serif" >2.0</text>
<line x1="284.9" y1="10.50" x2="288.5" y2="10.50" stroke="#000" stroke-width="1"/>
<text transform="matrix(1.0630 0 0 1.0256 260.003 15.800)" font-size="14" font-family="'Liberation Sans', sans-serif" >2.5</text>
<line x1="311.90" y1="308.5" x2="311.90" y2="312.1" stroke="#000" stroke-width="1"/>
<text transform="matrix(1.1793 0 0 1.0154 302.566 325.600)" font-size="14" font-family="'Liberation Sans', sans-serif" >−3</text>
<line x1="359.30" y1="308.5" x2="359.30" y2="312.1" stroke="#000" stroke-width="1"/>
<text transform="matrix(1.1793 0 0 1.0154 349.966 325.600)" font-size="14" font-family="'Liberation Sans', sans-serif" >−2</text>
<line x1="406.80" y1="308.5" x2="406.80" y2="312.1" stroke="#000" stroke-width="1"/>
<text transform="matrix(1.1586 0 0 1.0421 397.631 325.600)" font-size="14" font-family="'Liberation Sans', sans-serif" >−1</text>
<line x1="454.00" y1="308.5" x2="454.00" y2="312.1" stroke="#000" stroke-width="1"/>
<text transform="matrix(1.0963 0 0 1.0154 450.352 325.600)" font-size="14" font-family="'Liberation Sans', sans-serif" >0</text>
<g transform="matrix(1.0415 0 0 1.1217 250.875 192.259)"><text transform="rotate(-90)" font-size="14" font-family="'Liberation Sans', sans-serif"><tspan font-style="italic">y</tspan> [inches]</text></g>
<g clip-path="url(#c2)">
<line x1="567.75" y1="10.5" x2="567.75" y2="308.5" stroke="#000" stroke-width="1.5"/>
<circle cx="641.40" cy="15.00" r="3.4" fill="#0000ff"/>
<circle cx="650.30" cy="67.23" r="3.4" fill="#0000ff"/>
<circle cx="659.60" cy="110.15" r="3.4" fill="#0000ff"/>
<circle cx="661.80" cy="145.44" r="3.4" fill="#0000ff"/>
<circle cx="654.90" cy="174.45" r="3.4" fill="#0000ff"/>
<circle cx="643.00" cy="198.29" r="3.4" fill="#0000ff"/>
<circle cx="639.50" cy="217.89" r="3.4" fill="#0000ff"/>
<circle cx="632.40" cy="234.00" r="3.4" fill="#0000ff"/>
<circle cx="634.80" cy="247.24" r="3.4" fill="#0000ff"/>
<circle cx="627.40" cy="258.13" r="3.4" fill="#0000ff"/>
<circle cx="621.10" cy="267.08" r="3.4" fill="#0000ff"/>
<circle cx="610.60" cy="274.43" r="3.4" fill="#0000ff"/>
<circle cx="606.90" cy="280.48" r="3.4" fill="#0000ff"/>
<circle cx="599.00" cy="285.45" r="3.4" fill="#0000ff"/>
<circle cx="596.00" cy="289.53" r="3.4" fill="#0000ff"/>
<circle cx="590.00" cy="292.89" r="3.4" fill="#0000ff"/>
<circle cx="588.00" cy="295.65" r="3.4" fill="#0000ff"/>
<circle cx="590.00" cy="297.92" r="3.4" fill="#0000ff"/>
<circle cx="592.00" cy="299.79" r="3.4" fill="#0000ff"/>
<circle cx="593.50" cy="301.32" r="3.4" fill="#0000ff"/>
<rect x="621.60" y="11.80" width="6.40" height="6.40" fill="#ff0000"/>
<rect x="615.90" y="64.03" width="6.40" height="6.40" fill="#ff0000"/>
<rect x="615.50" y="106.95" width="6.40" height="6.40" fill="#ff0000"/>
<rect x="628.50" y="142.24" width="6.40" height="6.40" fill="#ff0000"/>
<rect x="613.10" y="171.25" width="6.40" height="6.40" fill="#ff0000"/>
<rect x="627.00" y="195.09" width="6.40" height="6.40" fill="#ff0000"/>
<rect x="615.30" y="214.69" width="6.40" height="6.40" fill="#ff0000"/>
<rect x="623.70" y="230.80" width="6.40" height="6.40" fill="#ff0000"/>
<rect x="627.80" y="244.04" width="6.40" height="6.40" fill="#ff0000"/>
<rect x="611.70" y="254.93" width="6.40" height="6.40" fill="#ff0000"/>
<rect x="606.60" y="263.88" width="6.40" height="6.40" fill="#ff0000"/>
<rect x="601.90" y="271.23" width="6.40" height="6.40" fill="#ff0000"/>
<rect x="586.50" y="277.28" width="6.40" height="6.40" fill="#ff0000"/>
<rect x="583.80" y="282.25" width="6.40" height="6.40" fill="#ff0000"/>
<rect x="581.80" y="286.33" width="6.40" height="6.40" fill="#ff0000"/>
<rect x="579.30" y="289.69" width="6.40" height="6.40" fill="#ff0000"/>
<rect x="576.80" y="292.45" width="6.40" height="6.40" fill="#ff0000"/>
<rect x="574.80" y="294.72" width="6.40" height="6.40" fill="#ff0000"/>
<rect x="572.80" y="296.59" width="6.40" height="6.40" fill="#ff0000"/>
<rect x="590.80" y="298.12" width="6.40" height="6.40" fill="#ff0000"/>
<rect x="586.80" y="299.38" width="6.40" height="6.40" fill="#ff0000"/>
<rect x="571.80" y="300.42" width="6.40" height="6.40" fill="#ff0000"/>
<rect x="591.30" y="289.80" width="6.40" height="6.40" fill="#ff0000"/>
<path d="M571.10 10.30L574.20 15.00L571.10 19.70L568.00 15.00Z" fill="#008000"/>
<path d="M561.50 62.53L564.60 67.23L561.50 71.93L558.40 67.23Z" fill="#008000"/>
<path d="M562.10 105.45L565.20 110.15L562.10 114.85L559.00 110.15Z" fill="#008000"/>
<path d="M576.90 140.74L580.00 145.44L576.90 150.14L573.80 145.44Z" fill="#008000"/>
<path d="M591.80 169.75L594.90 174.45L591.80 179.15L588.70 174.45Z" fill="#008000"/>
<path d="M603.10 193.59L606.20 198.29L603.10 202.99L600.00 198.29Z" fill="#008000"/>
<path d="M607.00 213.19L610.10 217.89L607.00 222.59L603.90 217.89Z" fill="#008000"/>
<path d="M612.90 229.30L616.00 234.00L612.90 238.70L609.80 234.00Z" fill="#008000"/>
<path d="M614.20 242.54L617.30 247.24L614.20 251.94L611.10 247.24Z" fill="#008000"/>
<path d="M616.30 253.43L619.40 258.13L616.30 262.83L613.20 258.13Z" fill="#008000"/>
<path d="M612.00 262.38L615.10 267.08L612.00 271.78L608.90 267.08Z" fill="#008000"/>
<path d="M614.20 269.73L617.30 274.43L614.20 279.13L611.10 274.43Z" fill="#008000"/>
<path d="M612.90 275.78L616.00 280.48L612.90 285.18L609.80 280.48Z" fill="#008000"/>
<path d="M611.00 280.75L614.10 285.45L611.00 290.15L607.90 285.45Z" fill="#008000"/>
<path d="M605.50 284.83L608.60 289.53L605.50 294.23L602.40 289.53Z" fill="#008000"/>
<path d="M602.00 288.19L605.10 292.89L602.00 297.59L598.90 292.89Z" fill="#008000"/>
<path d="M600.00 290.95L603.10 295.65L600.00 300.35L596.90 295.65Z" fill="#008000"/>
<path d="M597.50 293.22L600.60 297.92L597.50 302.62L594.40 297.92Z" fill="#008000"/>
<path d="M595.00 295.09L598.10 299.79L595.00 304.49L591.90 299.79Z" fill="#008000"/>
<path d="M592.00 296.62L595.10 301.32L592.00 306.02L588.90 301.32Z" fill="#008000"/>
<path d="M584.00 297.88L587.10 302.58L584.00 307.28L580.90 302.58Z" fill="#008000"/>
<path d="M581.00 298.92L584.10 303.62L581.00 308.32L577.90 303.62Z" fill="#008000"/>
<path d="M579.00 299.77L582.10 304.47L579.00 309.17L575.90 304.47Z" fill="#008000"/>
<path d="M577.00 300.47L580.10 305.17L577.00 309.87L573.90 305.17Z" fill="#008000"/>
<path d="M575.00 301.04L578.10 305.74L575.00 310.44L571.90 305.74Z" fill="#008000"/>
<path d="M573.00 301.52L576.10 306.22L573.00 310.92L569.90 306.22Z" fill="#008000"/>
<path d="M569.00 301.90L572.10 306.60L569.00 311.30L565.90 306.60Z" fill="#008000"/>
<path d="M565.00 302.22L568.10 306.92L565.00 311.62L561.90 306.92Z" fill="#008000"/>
<path d="M562.00 302.30L565.10 307.00L562.00 311.70L558.90 307.00Z" fill="#008000"/>
<path d="M541.50 302.30L544.60 307.00L541.50 311.70L538.40 307.00Z" fill="#008000"/>
<path d="M587.40 12.00L588.43 14.08L590.73 14.42L589.06 16.04L589.46 18.33L587.40 17.25L585.34 18.33L585.74 16.04L584.07 14.42L586.37 14.08Z" fill="#000000"/>
<path d="M578.20 64.23L579.23 66.31L581.53 66.64L579.86 68.27L580.26 70.56L578.20 69.48L576.14 70.56L576.54 68.27L574.87 66.64L577.17 66.31Z" fill="#000000"/>
<path d="M576.90 107.15L577.93 109.24L580.23 109.57L578.56 111.20L578.96 113.49L576.90 112.40L574.84 113.49L575.24 111.20L573.57 109.57L575.87 109.24Z" fill="#000000"/>
<path d="M594.60 142.44L595.63 144.53L597.93 144.86L596.26 146.48L596.66 148.77L594.60 147.69L592.54 148.77L592.94 146.48L591.27 144.86L593.57 144.53Z" fill="#000000"/>
<path d="M603.90 171.45L604.93 173.53L607.23 173.87L605.56 175.49L605.96 177.78L603.90 176.70L601.84 177.78L602.24 175.49L600.57 173.87L602.87 173.53Z" fill="#000000"/>
<path d="M614.80 195.29L615.83 197.38L618.13 197.71L616.46 199.33L616.86 201.62L614.80 200.54L612.74 201.62L613.14 199.33L611.47 197.71L613.77 197.38Z" fill="#000000"/>
<path d="M617.90 214.89L618.93 216.98L621.23 217.31L619.56 218.93L619.96 221.22L617.90 220.14L615.84 221.22L616.24 218.93L614.57 217.31L616.87 216.98Z" fill="#000000"/>
<path d="M627.80 231.00L628.83 233.09L631.13 233.42L629.46 235.04L629.86 237.33L627.80 236.25L625.74 237.33L626.14 235.04L624.47 233.42L626.77 233.09Z" fill="#000000"/>
<path d="M628.80 244.24L629.83 246.33L632.13 246.66L630.46 248.29L630.86 250.58L628.80 249.49L626.74 250.58L627.14 248.29L625.47 246.66L627.77 246.33Z" fill="#000000"/>
<path d="M633.80 255.13L634.83 257.21L637.13 257.55L635.46 259.17L635.86 261.46L633.80 260.38L631.74 261.46L632.14 259.17L630.47 257.55L632.77 257.21Z" fill="#000000"/>
<path d="M636.00 264.08L637.03 266.16L639.33 266.50L637.66 268.12L638.06 270.41L636.00 269.33L633.94 270.41L634.34 268.12L632.67 266.50L634.97 266.16Z" fill="#000000"/>
<path d="M631.40 271.43L632.43 273.52L634.73 273.85L633.06 275.47L633.46 277.77L631.40 276.68L629.34 277.77L629.74 275.47L628.07 273.85L630.37 273.52Z" fill="#000000"/>
<path d="M627.40 277.48L628.43 279.56L630.73 279.90L629.06 281.52L629.46 283.81L627.40 282.73L625.34 283.81L625.74 281.52L624.07 279.90L626.37 279.56Z" fill="#000000"/>
<path d="M634.00 282.45L635.03 284.53L637.33 284.87L635.66 286.49L636.06 288.78L634.00 287.70L631.94 288.78L632.34 286.49L630.67 284.87L632.97 284.53Z" fill="#000000"/>
<path d="M611.00 286.53L612.03 288.62L614.33 288.95L612.66 290.58L613.06 292.87L611.00 291.78L608.94 292.87L609.34 290.58L607.67 288.95L609.97 288.62Z" fill="#000000"/>
<path d="M614.50 289.89L615.53 291.98L617.83 292.31L616.16 293.93L616.56 296.22L614.50 295.14L612.44 296.22L612.84 293.93L611.17 292.31L613.47 291.98Z" fill="#000000"/>
<path d="M608.50 292.65L609.53 294.74L611.83 295.07L610.16 296.69L610.56 298.98L608.50 297.90L606.44 298.98L606.84 296.69L605.17 295.07L607.47 294.74Z" fill="#000000"/>
<path d="M604.00 294.92L605.03 297.01L607.33 297.34L605.66 298.96L606.06 301.25L604.00 300.17L601.94 301.25L602.34 298.96L600.67 297.34L602.97 297.01Z" fill="#000000"/>
<path d="M599.00 296.79L600.03 298.87L602.33 299.21L600.66 300.83L601.06 303.12L599.00 302.04L596.94 303.12L597.34 300.83L595.67 299.21L597.97 298.87Z" fill="#000000"/>
<path d="M597.00 298.32L598.03 300.40L600.33 300.74L598.66 302.36L599.06 304.65L597.00 303.57L594.94 304.65L595.34 302.36L593.67 300.74L595.97 300.40Z" fill="#000000"/>
<path d="M596.00 299.58L597.03 301.66L599.33 302.00L597.66 303.62L598.06 305.91L596.00 304.83L593.94 305.91L594.34 303.62L592.67 302.00L594.97 301.66Z" fill="#000000"/>
<path d="M595.00 300.62L596.03 302.70L598.33 303.03L596.66 304.66L597.06 306.95L595.00 305.87L592.94 306.95L593.34 304.66L591.67 303.03L593.97 302.70Z" fill="#000000"/>
<path d="M594.00 301.47L595.03 303.55L597.33 303.89L595.66 305.51L596.06 307.80L594.00 306.72L591.94 307.80L592.34 305.51L590.67 303.89L592.97 303.55Z" fill="#000000"/>
<path d="M590.00 302.17L591.03 304.25L593.33 304.59L591.66 306.21L592.06 308.50L590.00 307.42L587.94 308.50L588.34 306.21L586.67 304.59L588.97 304.25Z" fill="#000000"/>
<path d="M580.00 302.74L581.03 304.83L583.33 305.16L581.66 306.78L582.06 309.07L580.00 307.99L577.94 309.07L578.34 306.78L576.67 305.16L578.97 304.83Z" fill="#000000"/>
<path d="M568.00 303.22L569.03 305.30L571.33 305.63L569.66 307.26L570.06 309.55L568.00 308.47L565.94 309.55L566.34 307.26L564.67 305.63L566.97 305.30Z" fill="#000000"/>
<path d="M543.00 303.92L544.03 306.01L546.33 306.34L544.66 307.97L545.06 310.26L543.00 309.17L540.94 310.26L541.34 307.97L539.67 306.34L541.97 306.01Z" fill="#000000"/>
<path d="M600.30 11.70L603.70 18.30L596.90 18.30Z" fill="#bf00bf"/>
<path d="M609.10 63.93L612.50 70.53L605.70 70.53Z" fill="#bf00bf"/>
<path d="M620.90 106.85L624.30 113.45L617.50 113.45Z" fill="#bf00bf"/>
<path d="M640.10 142.14L643.50 148.74L636.70 148.74Z" fill="#bf00bf"/>
<path d="M651.20 171.15L654.60 177.75L647.80 177.75Z" fill="#bf00bf"/>
<path d="M659.00 194.99L662.40 201.59L655.60 201.59Z" fill="#bf00bf"/>
<path d="M666.40 214.59L669.80 221.19L663.00 221.19Z" fill="#bf00bf"/>
<path d="M673.60 230.70L677.00 237.30L670.20 237.30Z" fill="#bf00bf"/>
<path d="M671.60 243.94L675.00 250.54L668.20 250.54Z" fill="#bf00bf"/>
<path d="M665.20 254.83L668.60 261.43L661.80 261.43Z" fill="#bf00bf"/>
<path d="M662.60 263.78L666.00 270.38L659.20 270.38Z" fill="#bf00bf"/>
<path d="M657.40 271.13L660.80 277.73L654.00 277.73Z" fill="#bf00bf"/>
<path d="M658.70 277.18L662.10 283.78L655.30 283.78Z" fill="#bf00bf"/>
<path d="M646.00 282.15L649.40 288.75L642.60 288.75Z" fill="#bf00bf"/>
<path d="M639.10 286.23L642.50 292.83L635.70 292.83Z" fill="#bf00bf"/>
<path d="M621.50 289.59L624.90 296.19L618.10 296.19Z" fill="#bf00bf"/>
<path d="M624.00 292.35L627.40 298.95L620.60 298.95Z" fill="#bf00bf"/>
<path d="M610.50 294.62L613.90 301.22L607.10 301.22Z" fill="#bf00bf"/>
<path d="M603.00 296.49L606.40 303.09L599.60 303.09Z" fill="#bf00bf"/>
<path d="M593.00 298.02L596.40 304.62L589.60 304.62Z" fill="#bf00bf"/>
<path d="M589.00 299.28L592.40 305.88L585.60 305.88Z" fill="#bf00bf"/>
<path d="M586.00 300.32L589.40 306.92L582.60 306.92Z" fill="#bf00bf"/>
<path d="M583.00 301.17L586.40 307.77L579.60 307.77Z" fill="#bf00bf"/>
<path d="M580.00 301.87L583.40 308.47L576.60 308.47Z" fill="#bf00bf"/>
<path d="M576.50 302.44L579.90 309.04L573.10 309.04Z" fill="#bf00bf"/>
<path d="M573.00 302.92L576.40 309.52L569.60 309.52Z" fill="#bf00bf"/>
<path d="M570.00 303.30L573.40 309.90L566.60 309.90Z" fill="#bf00bf"/>
</g>
<line x1="520.0" y1="10.5" x2="687.0" y2="10.5" stroke="#5a5a5a" stroke-width="1"/>
<line x1="520.0" y1="308.5" x2="687.0" y2="308.5" stroke="#181818" stroke-width="1"/>
<line x1="520.5" y1="10.0" x2="520.5" y2="309.0" stroke="#050505" stroke-width="1"/>
<line x1="686.5" y1="10.0" x2="686.5" y2="309.0" stroke="#1c1c1c" stroke-width="1"/>
<line x1="516.9" y1="308.50" x2="520.5" y2="308.50" stroke="#000" stroke-width="1"/>
<text transform="matrix(1.0595 0 0 1.0256 492.070 313.800)" font-size="14" font-family="'Liberation Sans', sans-serif" >0.0</text>
<line x1="516.9" y1="248.50" x2="520.5" y2="248.50" stroke="#000" stroke-width="1"/>
<text transform="matrix(1.0595 0 0 1.0256 492.070 253.800)" font-size="14" font-family="'Liberation Sans', sans-serif" >0.5</text>
<line x1="516.9" y1="189.50" x2="520.5" y2="189.50" stroke="#000" stroke-width="1"/>
<text transform="matrix(1.0611 0 0 1.0256 492.039 194.800)" font-size="14" font-family="'Liberation Sans', sans-serif" >1.0</text>
<line x1="516.9" y1="129.50" x2="520.5" y2="129.50" stroke="#000" stroke-width="1"/>
<text transform="matrix(1.0611 0 0 1.0526 492.039 134.800)" font-size="14" font-family="'Liberation Sans', sans-serif" >1.5</text>
<line x1="516.9" y1="70.50" x2="520.5" y2="70.50" stroke="#000" stroke-width="1"/>
<text transform="matrix(1.0630 0 0 1.0256 492.003 75.800)" font-size="14" font-family="'Liberation Sans', sans-serif" >2.0</text>
<line x1="516.9" y1="10.50" x2="520.5" y2="10.50" stroke="#000" stroke-width="1"/>
<text transform="matrix(1.0630 0 0 1.0256 492.003 15.800)" font-size="14" font-family="'Liberation Sans', sans-serif" >2.5</text>
<line x1="520.50" y1="308.5" x2="520.50" y2="312.1" stroke="#000" stroke-width="1"/>
<text transform="matrix(1.1586 0 0 1.0421 511.331 325.600)" font-size="14" font-family="'Liberation Sans', sans-serif" >−1</text>
<line x1="567.90" y1="308.5" x2="567.90" y2="312.1" stroke="#000" stroke-width="1"/>
<text transform="matrix(1.0963 0 0 1.0154 564.252 325.600)" font-size="14" font-family="'Liberation Sans', sans-serif" >0</text>
<line x1="615.20" y1="308.5" x2="615.20" y2="312.1" stroke="#000" stroke-width="1"/>
<text transform="matrix(0.9500 0 0 1.0421 611.500 325.600)" font-size="14" font-family="'Liberation Sans', sans-serif" >1</text>
<line x1="662.50" y1="308.5" x2="662.50" y2="312.1" stroke="#000" stroke-width="1"/>
<text transform="matrix(1.0080 0 0 1.0154 658.694 325.600)" font-size="14" font-family="'Liberation Sans', sans-serif" >2</text>
<g transform="matrix(1.0415 0 0 1.1217 482.875 192.259)"><text transform="rotate(-90)" font-size="14" font-family="'Liberation Sans', sans-serif"><tspan font-style="italic">y</tspan> [inches]</text></g>
<text transform="matrix(0.9935 0 0 1.1100 123.606 344.100)" font-size="14" font-family="'Liberation Sans', sans-serif" font-style="italic">U/U</text>
<text transform="matrix(1.0200 0 0 1.0857 148.545 344.700)" font-size="10" font-family="'Liberation Sans', sans-serif" font-style="italic">o</text>
<text transform="matrix(1.0038 0 0 1.1200 335.145 344.200)" font-size="14" font-family="'Liberation Sans', sans-serif" font-style="italic">W/U</text>
<text transform="matrix(1.0000 0 0 1.0476 363.450 344.700)" font-size="10" font-family="'Liberation Sans', sans-serif" font-style="italic">o</text>
<text transform="matrix(1.2833 0 0 1.2000 376.417 344.200)" font-size="14" font-family="'Liberation Sans', sans-serif" >×</text>
<text transform="matrix(1.1000 0 0 1.0256 390.600 342.900)" font-size="14" font-family="'Liberation Sans', sans-serif" >10</text>
<text transform="matrix(1.0022 0 0 1.1200 564.447 344.100)" font-size="14" font-family="'Liberation Sans', sans-serif" font-style="italic">V/U</text>
<text transform="matrix(1.0800 0 0 1.1810 588.630 345.100)" font-size="10" font-family="'Liberation Sans', sans-serif" font-style="italic">o</text>
<text transform="matrix(1.2833 0 0 1.2333 602.617 344.358)" font-size="14" font-family="'Liberation Sans', sans-serif" >×</text>
<text transform="matrix(1.0805 0 0 1.0256 615.920 342.900)" font-size="14" font-family="'Liberation Sans', sans-serif" >100</text>
<rect x="62.0" y="16.2" width="60" height="56" rx="2" ry="2" fill="#fff" fill-opacity="0.8" stroke="#d8d8d8" stroke-width="1"/>
<circle cx="74.60" cy="21.25" r="3.4" fill="#0000ff"/>
<text transform="matrix(1.2000 0 0 0.9697 88.800 24.658)" font-size="11" font-family="'Liberation Sans', sans-serif" >ldv00</text>
<rect x="71.40" y="29.28" width="6.40" height="6.40" fill="#ff0000"/>
<text transform="matrix(1.2120 0 0 0.9697 88.791 35.883)" font-size="11" font-family="'Liberation Sans', sans-serif" >ldv02</text>
<path d="M74.60 39.00L77.70 43.70L74.60 48.40L71.50 43.70Z" fill="#008000"/>
<text transform="matrix(1.2000 0 0 0.9697 88.800 47.108)" font-size="11" font-family="'Liberation Sans', sans-serif" >ldv04</text>
<path d="M74.60 51.92L75.63 54.01L77.93 54.34L76.26 55.97L76.66 58.26L74.60 57.17L72.54 58.26L72.94 55.97L71.27 54.34L73.57 54.01Z" fill="#000000"/>
<text transform="matrix(1.2120 0 0 0.9697 88.791 58.333)" font-size="11" font-family="'Liberation Sans', sans-serif" >ldv05</text>
<path d="M74.60 62.85L78.00 69.45L71.20 69.45Z" fill="#bf00bf"/>
<text transform="matrix(1.2120 0 0 0.9697 88.791 69.558)" font-size="11" font-family="'Liberation Sans', sans-serif" >ldv07</text>
<rect x="294.0" y="16.2" width="60" height="56" rx="2" ry="2" fill="#fff" fill-opacity="0.8" stroke="#d8d8d8" stroke-width="1"/>
<circle cx="306.60" cy="21.25" r="3.4" fill="#0000ff"/>
<text transform="matrix(1.2000 0 0 0.9697 320.800 24.658)" font-size="11" font-family="'Liberation Sans', sans-serif" >ldv00</text>
<rect x="303.40" y="29.28" width="6.40" height="6.40" fill="#ff0000"/>
<text transform="matrix(1.2120 0 0 0.9697 320.791 35.883)" font-size="11" font-family="'Liberation Sans', sans-serif" >ldv02</text>
<path d="M306.60 39.00L309.70 43.70L306.60 48.40L303.50 43.70Z" fill="#008000"/>
<text transform="matrix(1.2000 0 0 0.9697 320.800 47.108)" font-size="11" font-family="'Liberation Sans', sans-serif" >ldv04</text>
<path d="M306.60 51.92L307.63 54.01L309.93 54.34L308.26 55.97L308.66 58.26L306.60 57.17L304.54 58.26L304.94 55.97L303.27 54.34L305.57 54.01Z" fill="#000000"/>
<text transform="matrix(1.2120 0 0 0.9697 320.791 58.333)" font-size="11" font-family="'Liberation Sans', sans-serif" >ldv05</text>
<path d="M306.60 62.85L310.00 69.45L303.20 69.45Z" fill="#bf00bf"/>
<text transform="matrix(1.2120 0 0 0.9697 320.791 69.558)" font-size="11" font-family="'Liberation Sans', sans-serif" >ldv07</text>
</svg></body></html>
